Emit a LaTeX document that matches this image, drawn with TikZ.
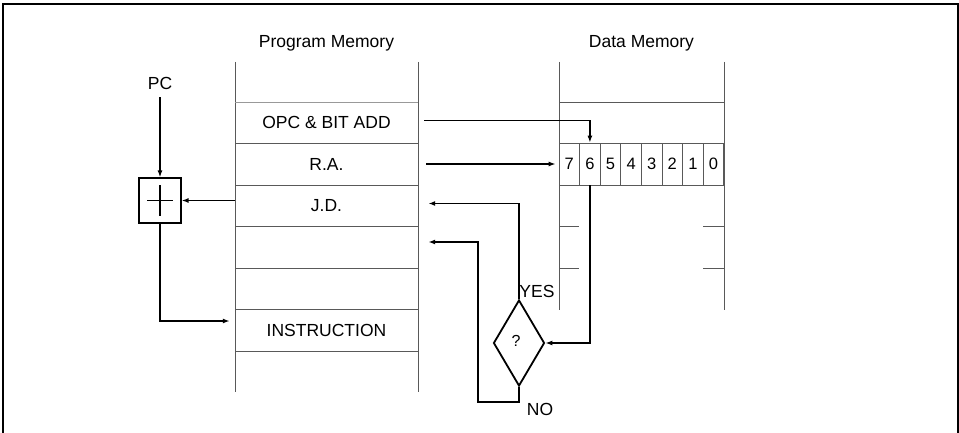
\documentclass[tikz,border=0pt]{standalone}
\usepackage{fontspec}
\setmainfont{Liberation Sans}
\usetikzlibrary{arrows.meta,shapes.geometric,positioning}

\begin{document}
\begin{tikzpicture}[x=1pt,y=-1pt,
  grid/.style={black!65,line width=0.7pt},
  flow/.style={line width=1.8pt,-{Latex[length=7pt,width=5pt]}},
  lbl/.style={font=\fontsize{17.5}{20}\selectfont,inner sep=0pt},
  row/.style={lbl,minimum width=183pt,minimum height=41.5pt},
  bitcell/.style={draw=black!65,line width=0.7pt,minimum width=20.6pt,
    minimum height=42pt,inner sep=0pt,font=\fontsize{16.5}{18}\selectfont}]
  \useasboundingbox (0,0) rectangle (959,433);
  \draw[line width=1.2pt] (3,433) -- (3,4) -- (958,4) -- (958,433);
  % program memory
  \draw[grid] (235,62) -- (235,392) (418,62) -- (418,392);
  \draw[grid,black!40] (235,102) -- (418,102);
  \foreach \y in {143,185,226,268,309,351}
    \draw[grid] (235,\y) -- (418,\y);
  \node[lbl] (pmem) at (326.5,43) {Program Memory};
  \node[row] (opc) at (326.5,122.5) {OPC \& BIT ADD};
  \node[row] (ra) at (326.5,164) {R.A.};
  \node[row] (jd) at (326.5,205.5) {J.D.};
  \node[row] (free) at (326.5,247) {};
  \node[row] (instr) at (326.5,330) {INSTRUCTION};
  % data memory
  \draw[grid] (559,62) -- (559,310) (724,62) -- (724,310) (559,102) -- (724,102);
  \foreach \y in {226,268}
    \draw[grid] (559,\y) -- (579,\y) (703,\y) -- (724,\y);
  \node[lbl] (dmem) at (641.5,43) {Data Memory};
  \foreach \b [count=\i from 0] in {7,...,0}
    \node[bitcell] (b\b) at (569.3+20.6*\i,164) {\b};
  % adder
  \node[lbl] (pc) at (160,83) {PC};
  \node[draw,line width=1.2pt,minimum width=42pt,minimum height=45pt] (add) at (160,200.5) {};
  \draw[line width=1.6pt] (add.center) +(-13,0) -- +(13,0) (add.center) +(0,-15) -- +(0,15);
  % test
  \node[draw,diamond,line width=1.8pt,minimum width=51pt,minimum height=86pt,inner sep=0pt] (test) at (519,343) {};
  \node[lbl,font=\fontsize{16}{18}\selectfont] (quest) at (516,341) {?};
  \node[lbl] (yes) at (537,291) {YES};
  \node[lbl] (no) at (540,409) {NO};
  \coordinate (nobend) at (478,402);
  \draw[flow] ([yshift=-8pt]pc.south) -- (add);
  \draw[flow] (add.east -| jd.west) -- (add.east);
  \draw[flow] (add.south) |- ([xshift=-5pt,yshift=9pt]instr.west);
  \draw[flow] ([xshift=6pt,yshift=2pt]opc.east) -| (b6.north);
  \draw[flow] ([xshift=8pt]ra.east) -- ([xshift=-3pt]b7.west);
  \draw[flow] (b6.south) |- (test.east);
  \draw[flow] (test.north) |- ([xshift=10pt,yshift=2pt]jd.east);
  \draw[flow] (test.south) |- (nobend) |- ([xshift=10pt,yshift=5pt]free.east);
\end{tikzpicture}
\end{document}
